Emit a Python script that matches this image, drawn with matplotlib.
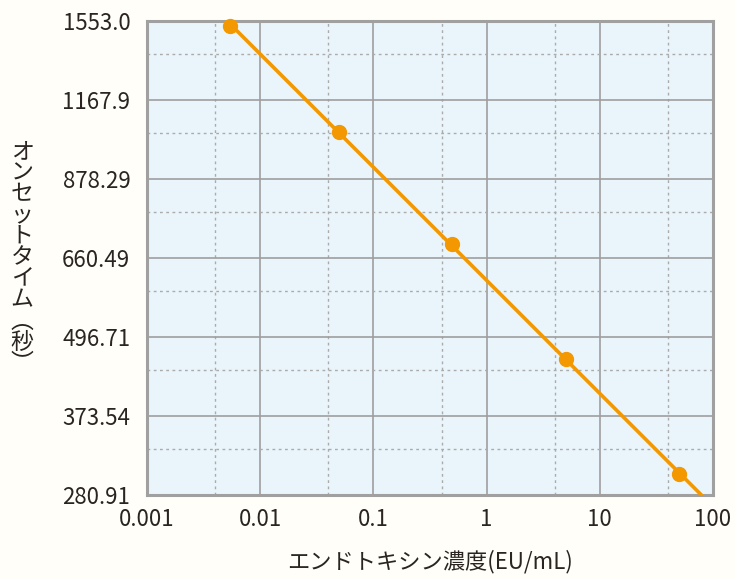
import numpy as np
import matplotlib
matplotlib.use('Agg')
from matplotlib import pyplot as plt
from matplotlib.ticker import FixedLocator, NullFormatter

plt.rcParams['font.family'] = ['Noto Sans CJK JP', 'DejaVu Sans']

# データ
conc = [0.0054, 0.05, 0.5, 5, 50]            # EU/mL
onset = [1527, 1039, 694, 459, 303]          # 秒

xticks = [0.001, 0.01, 0.1, 1, 10, 100]
xticklabels = ['0.001', '0.01', '0.1', '1', '10', '100']
xminor = [0.004, 0.04, 0.4, 4, 40]

yticks = [280.91, 373.54, 496.71, 660.49, 878.29, 1167.9, 1553.0]
yticklabels = ['280.91', '373.54', '496.71', '660.49', '878.29', '1167.9', '1553.0']

orange = '#F39800'
grid_c = '#9E9E9E'
txt_c = '#2a2522'

fig = plt.figure(figsize=(7.35, 5.79), dpi=100)
fig.patch.set_facecolor('#FFFEF8')
ax = fig.add_axes([0.2, 0.145, 0.77, 0.819])
ax.set_facecolor('#E9F5FB')

ax.set_xscale('log')
ax.set_yscale('log')
ax.set_xlim(0.001, 100)
ax.set_ylim(yticks[0], yticks[-1])

ax.xaxis.set_major_locator(FixedLocator(xticks))
ax.set_xticklabels(xticklabels)
ax.xaxis.set_minor_locator(FixedLocator(xminor))
ax.xaxis.set_minor_formatter(NullFormatter())

# 副目盛り(点線)は各区間の上から約0.42の位置
ymin_ = [yticks[i + 1] * (yticks[i] / yticks[i + 1]) ** 0.42 for i in range(len(yticks) - 1)]
ax.yaxis.set_major_locator(FixedLocator(yticks))
ax.set_yticklabels(yticklabels)
ax.yaxis.set_minor_locator(FixedLocator(ymin_))
ax.yaxis.set_minor_formatter(NullFormatter())

ax.grid(True, which='major', color=grid_c, lw=1.2)
ax.grid(True, which='minor', color='#ABABAB', lw=1.0, ls=(0, (2, 2.5)))
ax.set_axisbelow(True)

ax.tick_params(which='both', length=0)
ax.tick_params(axis='y', pad=12, labelsize=16, labelcolor=txt_c)
ax.tick_params(axis='x', pad=9, labelsize=16, labelcolor=txt_c)

for s in ax.spines.values():
    s.set_color('#A0A0A0')
    s.set_linewidth(2.2)

# 回帰直線 (両対数)
k, b = np.polyfit(np.log10(conc), np.log10(onset), 1)
xl = np.array([conc[0], 100])
ax.plot(xl, 10 ** (b + k * np.log10(xl)), color=orange, lw=2.6, zorder=3)
ax.plot(conc, onset, 'o', color=orange, ms=10, zorder=4, clip_on=False)

ax.set_xlabel('エンドトキシン濃度(EU/mL)', fontsize=16, color=txt_c, labelpad=14)

ylab = ['オ', 'ン', 'セ', 'ッ', 'ト', 'タ', 'イ', 'ム', '︵', '秒', '︶']
fig.text(0.03, 0.555, '\n'.join(ylab), fontsize=16.5, color=txt_c,
         ha='center', va='center', linespacing=0.9)

fig.savefig('out.png', dpi=100, facecolor=fig.get_facecolor())
